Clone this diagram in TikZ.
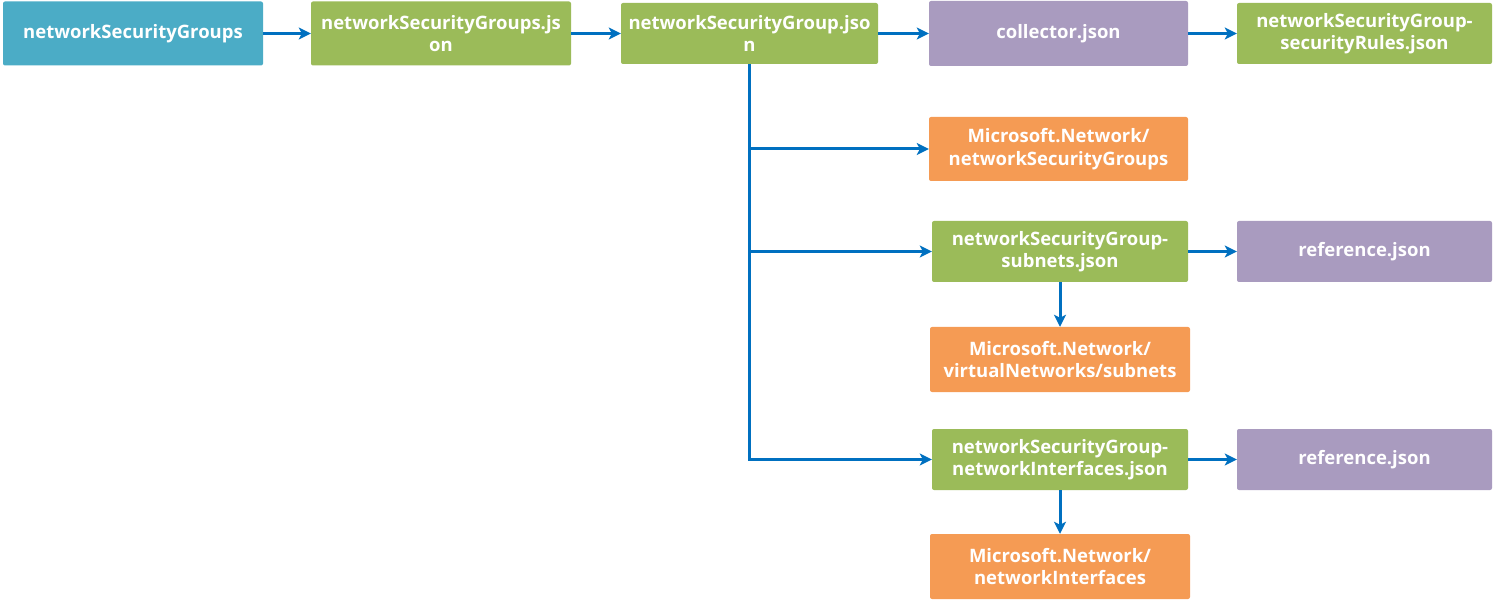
\documentclass[tikz,border=0pt]{standalone}
\usepackage{fontspec}
\setmainfont{Open Sans}
\usetikzlibrary{arrows.meta}

\definecolor{nsgteal}{HTML}{4BACC6}
\definecolor{nsggreen}{HTML}{9BBB59}
\definecolor{nsgpurple}{HTML}{A99BBF}
\definecolor{nsgorange}{HTML}{F59B54}
\definecolor{nsgblue}{HTML}{0070C0}

\tikzset{
	box/.style={rounded corners=2pt, text=white, align=center, inner sep=0pt,
		font=\fontsize{18.5}{22.5}\selectfont\bfseries},
	tealbox/.style={box, fill=nsgteal},
	greenbox/.style={box, fill=nsggreen},
	purplebox/.style={box, fill=nsgpurple},
	orangebox/.style={box, fill=nsgorange},
	link/.style={draw=nsgblue, line width=3pt, -{Stealth[length=12pt,width=12pt,inset=3pt]}}
}

\begin{document}
\begin{tikzpicture}[x=1pt, y=-1pt]

	% page frame, pixel coordinates of the reference
	\useasboundingbox (0,0) rectangle (1496,601);

	% top row
	\node[tealbox, minimum width=260pt, minimum height=64pt] (groups) at (133,33.5) {networkSecurityGroups};
	\node[greenbox, minimum width=260pt, minimum height=64pt] (groupsjson) at (441,33.5) {networkSecurityGroups.js\\on};
	\node[greenbox, minimum width=257pt, minimum height=61pt] (groupjson) at (749.5,33.5) {networkSecurityGroup.jso\\n};
	\node[purplebox, minimum width=259pt, minimum height=65pt] (collector) at (1058.5,33.5) {collector.json};
	\node[greenbox, minimum width=255pt, minimum height=61pt] (rules) at (1364.5,33.5) {networkSecurityGroup-\\securityRules.json};

	% children of the group file
	\node[orangebox, minimum width=259pt, minimum height=64pt] (nsgtype) at (1058.5,149) {Microsoft.Network/\\networkSecurityGroups};
	\node[greenbox, minimum width=256pt, minimum height=61pt] (subnets) at (1060,251.5) {networkSecurityGroup-\\subnets.json};
	\node[purplebox, minimum width=255pt, minimum height=61pt] (subnetref) at (1364.5,251.5) {reference.json};
	\node[orangebox, minimum width=260pt, minimum height=65pt] (subnettype) at (1060,359.5) {Microsoft.Network/\\virtualNetworks/subnets};
	\node[greenbox, minimum width=256pt, minimum height=61pt] (nics) at (1060,459.5) {networkSecurityGroup-\\networkInterfaces.json};
	\node[purplebox, minimum width=255pt, minimum height=61pt] (nicref) at (1364.5,459.5) {reference.json};
	\node[orangebox, minimum width=260pt, minimum height=65pt] (nictype) at (1060,566.5) {Microsoft.Network/\\networkInterfaces};

	% connectors
	\draw[link] (groups) -- (groupsjson);
	\draw[link] (groupsjson) -- (groupjson);
	\draw[link] (groupjson) -- (collector);
	\draw[link] (collector) -- (rules);
	\draw[link] (groupjson.south) |- (nsgtype.west);
	\draw[link] (groupjson.south) |- (subnets.west);
	\draw[link] (groupjson.south) |- (nics.west);
	\draw[link] (subnets) -- (subnetref);
	\draw[link] (subnets) -- (subnettype);
	\draw[link] (nics) -- (nicref);
	\draw[link] (nics) -- (nictype);

\end{tikzpicture}
\end{document}
